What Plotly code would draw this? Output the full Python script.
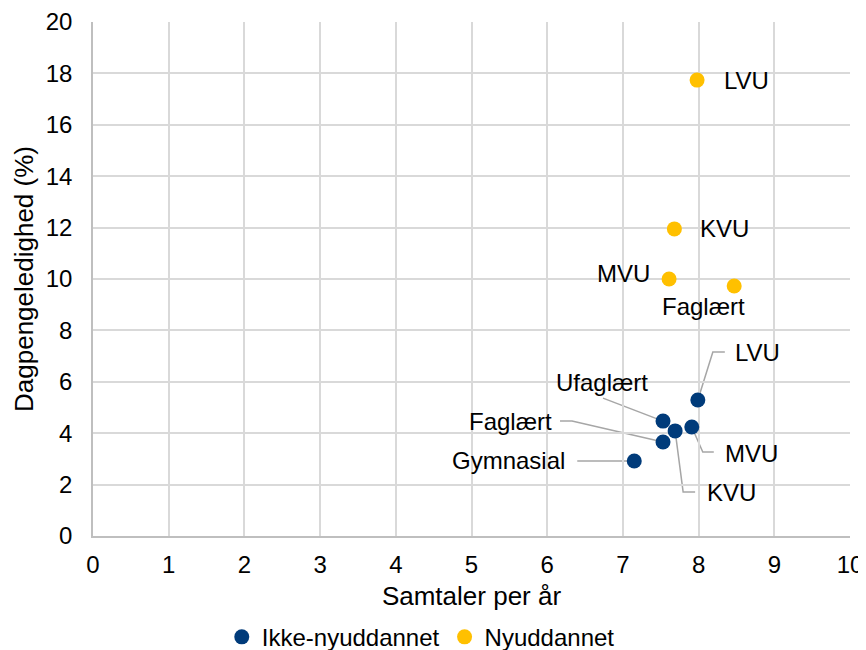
import plotly.graph_objects as go

# ---- data ----
ikke_labels = ["Gymnasial", "Faglært", "Ufaglært", "KVU", "MVU", "LVU"]
ikke_x = [7.15, 7.53, 7.53, 7.69, 7.91, 7.99]
ikke_y = [2.92, 3.66, 4.47, 4.09, 4.24, 5.29]

ny_labels = ["LVU", "KVU", "MVU", "Faglært"]
ny_x = [7.98, 7.68, 7.61, 8.47]
ny_y = [17.74, 11.95, 10.00, 9.73]

x_ticks = list(range(0, 11))
y_ticks = list(range(0, 21, 2))

BLUE = "#003B7A"
YELLOW = "#FFC000"
FONT = "Liberation Sans, Arial, sans-serif"
LBL = 24

fig = go.Figure()
fig.add_trace(go.Scatter(x=ikke_x, y=ikke_y, mode="markers", name="Ikke-nyuddannet",
                         marker=dict(color=BLUE, size=15, line=dict(width=0))))
fig.add_trace(go.Scatter(x=ny_x, y=ny_y, mode="markers", name="Nyuddannet",
                         marker=dict(color=YELLOW, size=15, line=dict(width=0))))

# label placement (pixel offsets relative to the point; screen y downward for leader paths)
ikke_style = {
    "Gymnasial": dict(path=[(-57, 0), (-7, 0), (0, 0)], xs=-67, ys=0, anchor="right"),
    "Faglært": dict(path=[(-103, -21), (-91, -21), (0, 0)], xs=-109, ys=20, anchor="right"),
    "Ufaglært": dict(path=[(-60, -23), (0, 0)], xs=-61, ys=39, anchor="center"),
    "KVU": dict(path=[(0, 0), (8, 61), (20, 61)], xs=30, ys=-62, anchor="left"),
    "MVU": dict(path=[(0, 0), (11, 25), (22, 25)], xs=31, ys=-26, anchor="left"),
    "LVU": dict(path=[(0, 0), (15, -48), (27, -48)], xs=35, ys=48, anchor="left"),
}
for lab, xv, yv in zip(ikke_labels, ikke_x, ikke_y):
    st = ikke_style[lab]
    pts = st["path"]
    d = "M" + " L".join(f"{px},{-py}" for px, py in pts)
    fig.add_shape(type="path", path=d, xref="x", yref="y",
                  xsizemode="pixel", ysizemode="pixel", xanchor=xv, yanchor=yv,
                  line=dict(color="#A6A6A6", width=1.5), layer="below")
    fig.add_annotation(x=xv, y=yv, text=lab, showarrow=False, xanchor=st["anchor"],
                       yanchor="middle", xshift=st["xs"], yshift=st["ys"],
                       font=dict(size=LBL, color="#000000", family=FONT))

ny_style = {
    "LVU": dict(xs=25, ys=0, anchor="left"),
    "KVU": dict(xs=24, ys=0, anchor="left"),
    "MVU": dict(xs=-17, ys=6, anchor="right"),
    "Faglært": dict(xs=-31, ys=-21, anchor="center"),
}
for lab, xv, yv in zip(ny_labels, ny_x, ny_y):
    st = ny_style[lab]
    fig.add_annotation(x=xv, y=yv, text=lab, showarrow=False, xanchor=st["anchor"],
                       yanchor="middle", xshift=st["xs"], yshift=st["ys"],
                       font=dict(size=LBL, color="#000000", family=FONT))

# page body has an 8px margin: figure is sized/offset to compensate
fig.update_layout(
    width=858, height=642,
    margin=dict(l=85, r=16, t=14, b=114, autoexpand=False),
    paper_bgcolor="white", plot_bgcolor="white",
    font=dict(family=FONT, size=24, color="#000000"),
    showlegend=True,
    legend=dict(orientation="h", x=0.433, y=-0.197, xanchor="center", yanchor="middle",
                font=dict(size=24), itemsizing="trace", itemwidth=30,
                tracegroupgap=0, bgcolor="rgba(0,0,0,0)"),
)
fig.update_xaxes(range=[0, 10], tickvals=x_ticks, showgrid=True, gridcolor="#D9D9D9",
                 gridwidth=1.5, zeroline=False, showline=True, linecolor="#BFBFBF",
                 linewidth=1.5, ticks="", ticklabelstandoff=6, automargin=False,
                 title=dict(text="Samtaler per år", font=dict(size=26), standoff=10),
                 tickfont=dict(size=24))
fig.update_yaxes(range=[0, 20], tickvals=y_ticks, showgrid=True, gridcolor="#D9D9D9",
                 gridwidth=1.5, zeroline=False, showline=True, linecolor="#BFBFBF",
                 linewidth=1.5, ticks="", ticklabelstandoff=14, automargin=False,
                 title=dict(text="Dagpengeledighed (%)", font=dict(size=26), standoff=5),
                 tickfont=dict(size=24))

fig.write_html("out.html")
